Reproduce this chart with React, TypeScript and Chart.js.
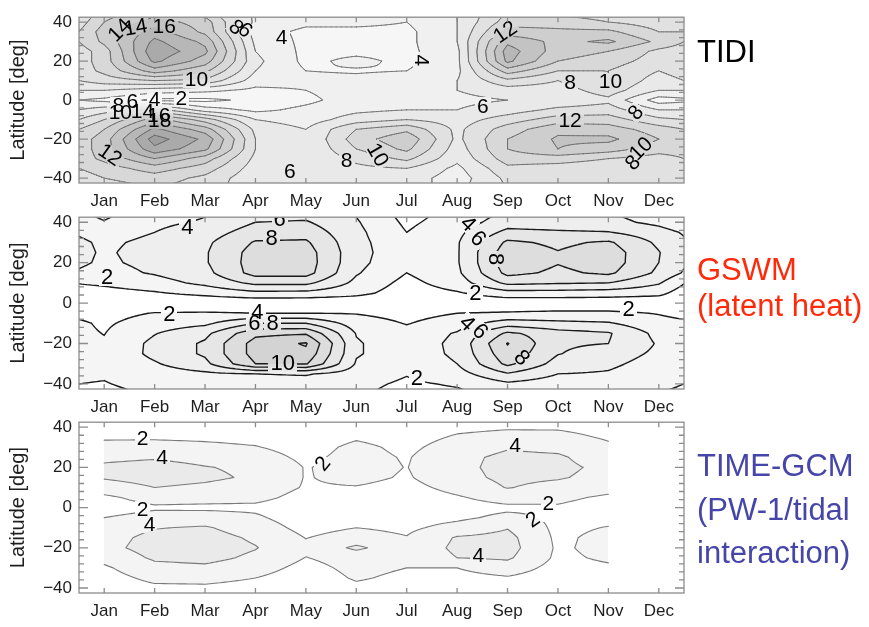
import { useEffect, useRef } from "react";
import { Chart, registerables } from "chart.js";

Chart.register(...registerables);

// ---------- shared axes ----------
const MONTHS = ["Jan", "Feb", "Mar", "Apr", "May", "Jun", "Jul", "Aug", "Sep", "Oct", "Nov", "Dec"];
const LATITUDES = [45, 40, 35, 30, 25, 20, 15, 10, 5, 0, -5, -10, -15, -20, -25, -30, -35, -40, -45];
const LAT_TICKS = [-40, -20, 0, 20, 40];
const LAT_MINOR_STEP = 4;

// ---------- TIDI observations ----------
// columns: edge, Jan..Dec, edge
const TIDI_MONTHS = [-0.5, 0, 1, 2, 3, 4, 5, 6, 7, 8, 9, 10, 11, 11.5];
const TIDI_LEVELS = [2, 4, 6, 8, 10, 12, 14, 16, 18, 20];
const TIDI_AMPLITUDE = [
  [8, 11, 13, 11, 5.5, 4.5, 5, 4.5, 6, 10, 9.5, 9, 8.5, 8],
  [9, 12, 15, 13, 5.5, 4.5, 4.5, 4, 6, 11, 11, 10, 9, 9],
  [10, 13, 17, 13.5, 5, 3.5, 3.5, 3.5, 6, 13, 12.5, 12.5, 10, 10],
  [10, 12.5, 18.5, 15.5, 5.5, 3.5, 3, 3.5, 6, 15.5, 13.4, 14.4, 11.5, 10],
  [9, 11, 19.5, 16.5, 6, 3.5, 3.5, 3.5, 5.5, 17, 13, 12, 9.5, 9],
  [9, 11, 18.5, 15, 6.5, 3.5, 4.5, 3.5, 5.5, 16.5, 12, 11, 9, 9],
  [9, 10.5, 15, 12.5, 6, 4, 3.8, 4, 5.5, 13, 10, 10, 8, 9],
  [8, 9, 10, 9.5, 5, 4.5, 4.5, 5, 6, 9.5, 8, 10, 7, 8],
  [6, 6, 5, 4.5, 3.5, 4, 5, 5.5, 6, 7, 7, 9, 6, 6],
  [4, 3.5, 1.5, 1.5, 2.5, 3.5, 5, 5.5, 5.5, 6, 6.5, 7.5, 3, 3.5],
  [6, 7, 9, 5, 3.5, 4.5, 5.5, 6, 6, 7, 8.5, 9, 6, 6],
  [8, 10, 15, 11, 6, 5, 7, 8, 7, 9, 11, 11, 8.5, 8],
  [10, 12, 18.5, 15, 7.5, 6, 10, 11.5, 7.5, 11, 13.5, 13, 11, 10],
  [11, 13, 21, 17.5, 8, 6, 11, 13.5, 7.5, 12, 14.3, 14.5, 12, 11],
  [11, 13, 19.5, 16.5, 8, 6, 10, 12.5, 7, 12, 14, 13, 11, 11],
  [11, 12.5, 16, 13, 7.5, 6, 8.5, 10.5, 6.5, 11, 11, 10, 9, 10],
  [10, 11, 13, 11, 7, 6, 7.5, 8, 5.5, 9.5, 9, 8.5, 8, 9],
  [9, 10, 11, 9.5, 6.5, 6, 7, 7, 5, 8.5, 8.5, 8, 8, 8.5],
  [8.5, 9, 10, 9, 6.5, 6, 6.5, 6.5, 5.5, 8, 8.5, 8, 8, 8.5],
];
// [month, latitude, level, angle in degrees]
const TIDI_LABELS = [
  [0.3, 36, 14, -45], [0.62, 37.5, 14, -10], [1.19, 38, 16, 0],
  [2.62, 37.5, 8, 40], [2.8, 36, 6, 40], [3.52, 32, 4, 0],
  [1.83, 10.7, 10, 0], [6.3, 20.4, 4, 90],
  [1.53, 1, 2, 0], [1.0, 0.3, 4, 0], [0.56, -0.5, 6, 0], [0.28, -2.5, 8, 0],
  [0.32, -6, 10, 0], [0.76, -5.5, 14, 0], [1.08, -7.5, 16, 0], [1.1, -10.5, 18, 0],
  [0.12, -28, 12, 35], [3.68, -36.4, 6, 0], [4.81, -30.6, 8, 0], [5.43, -28, 10, 60],
  [7.95, 35, 12, -35], [9.24, 9.2, 8, 0], [10.04, 9.7, 10, 0], [7.51, -2.9, 6, 0],
  [10.54, -6.3, 8, -50], [9.24, -10.2, 12, 0], [10.64, -24.8, 10, -45], [10.48, -32, 8, -45],
];

// ---------- GSWM (latent heat) ----------
const GSWM_MONTHS = [-0.5, 0, 1, 2, 3, 4, 5, 6, 7, 8, 9, 10, 11, 11.5];
const GSWM_LEVELS = [2, 4, 6, 8, 10, 12];
const GSWM_AMPLITUDE = [
  [2.3, 1.5, 3.0, 3.8, 5.0, 5.2, 3.8, 1.2, 2.6, 4.2, 4.2, 4.0, 3.0, 2.3],
  [2.6, 2.1, 3.6, 4.2, 6.0, 6.2, 4.2, 1.6, 3.0, 5.0, 4.8, 4.6, 3.5, 2.6],
  [3.8, 3.3, 4.0, 5.0, 7.0, 7.2, 4.5, 2.0, 3.5, 6.6, 6.3, 6.1, 4.8, 3.8],
  [4.3, 3.7, 4.4, 5.6, 8.2, 8.3, 4.6, 2.5, 3.8, 8.4, 7.6, 8.3, 5.6, 4.3],
  [4.4, 3.8, 4.6, 5.8, 8.8, 8.9, 4.7, 2.6, 3.8, 9.2, 8.1, 9.0, 6.1, 4.4],
  [4.3, 3.7, 4.5, 5.8, 8.9, 9.0, 4.6, 2.4, 3.8, 9.2, 8.1, 9.0, 6.0, 4.3],
  [3.8, 3.3, 4.2, 5.4, 8.8, 8.8, 4.2, 2.0, 3.6, 8.6, 7.6, 8.4, 5.6, 3.8],
  [2.1, 2.4, 3.2, 4.5, 6.5, 6.5, 3.5, 1.4, 3.0, 6.5, 6.2, 6.0, 4.2, 2.1],
  [1.0, 1.2, 1.8, 2.6, 3.5, 3.4, 2.6, 1.0, 1.8, 3.2, 3.2, 3.0, 2.6, 1.0],
  [0.3, 0.3, 0.3, 0.4, 0.5, 0.5, 0.5, 0.3, 0.5, 0.6, 0.6, 0.6, 0.5, 0.3],
  [1.5, 1.3, 2.1, 2.2, 2.0, 2.0, 1.9, 1.3, 2.0, 2.2, 2.4, 2.4, 1.9, 1.5],
  [2.3, 1.7, 3.0, 3.6, 6.0, 6.0, 3.0, 1.9, 3.0, 5.0, 4.5, 4.2, 2.6, 2.3],
  [2.4, 1.95, 3.9, 5.5, 9.5, 9.8, 3.9, 2.6, 4.2, 8.4, 6.8, 6.2, 3.4, 2.4],
  [2.5, 2.2, 4.5, 6.3, 10.8, 12.2, 4.2, 2.8, 4.5, 10.1, 6.3, 6.0, 3.8, 2.5],
  [2.6, 2.4, 4.5, 6.3, 10.8, 11.5, 4.2, 2.8, 4.4, 9.4, 6.1, 5.0, 3.6, 2.6],
  [2.5, 2.4, 3.8, 5.5, 10.0, 10.2, 3.8, 2.5, 4.0, 8.5, 5.2, 4.4, 3.2, 2.5],
  [2.3, 2.2, 3.0, 3.6, 4.0, 4.2, 3.0, 2.1, 3.2, 5.8, 4.0, 3.8, 2.8, 2.3],
  [2.0, 1.9, 2.6, 3.0, 3.0, 3.0, 2.5, 1.7, 2.2, 3.6, 3.0, 2.8, 2.4, 2.0],
  [1.6, 1.5, 2.2, 2.6, 2.6, 2.6, 2.2, 1.4, 1.6, 2.4, 2.4, 2.2, 2.0, 1.6],
];
const GSWM_LABELS = [
  [1.65, 37.9, 4, 0], [3.48, 41.8, 6, 0], [3.32, 32, 8, 0], [0.06, 12.8, 2, 0],
  [1.29, -5.4, 2, 0], [3.04, -4.4, 4, 0], [2.98, -9.9, 6, 0], [3.34, -9.9, 8, 0],
  [3.54, -29.6, 10, 0], [6.2, -36.9, 2, 0], [7.22, 39.4, 4, 45], [7.42, 32, 6, 45],
  [7.77, 21.7, 8, 90], [7.36, 4.9, 2, 0], [10.4, -3, 2, 0], [7.2, -9.9, 4, 45],
  [7.46, -13.8, 6, 45], [8.29, -27, 8, 45],
];

// ---------- TIME-GCM (PW-1/tidal interaction), Jan..Nov ----------
const TIME_MONTHS = [0, 1, 2, 3, 4, 5, 6, 7, 8, 9, 10];
const TIME_LEVELS = [2, 4];
const TIME_AMPLITUDE = [
  [0.8, 0.8, 0.8, 0.7, 0.5, 0.8, 0.8, 1.0, 1.2, 1.2, 1.0],
  [1.2, 1.3, 1.2, 1.0, 0.7, 1.2, 1.0, 1.6, 1.8, 1.8, 1.4],
  [1.8, 1.8, 1.7, 1.5, 1.0, 1.8, 1.3, 2.2, 2.6, 2.5, 1.8],
  [2.5, 2.6, 2.4, 2.1, 1.3, 2.4, 1.6, 2.8, 3.8, 3.5, 2.3],
  [3.5, 3.8, 3.3, 2.8, 1.6, 2.6, 1.85, 3.4, 4.5, 4.3, 2.9],
  [4.4, 4.8, 4.1, 3.6, 1.9, 2.7, 1.95, 3.5, 4.6, 4.5, 3.5],
  [4.2, 4.8, 4.4, 3.7, 1.9, 2.5, 1.8, 3.3, 4.5, 4.2, 3.3],
  [3.0, 4.0, 3.6, 3.0, 1.85, 1.9, 1.4, 2.6, 4.1, 3.3, 2.6],
  [1.6, 2.8, 2.7, 2.5, 1.4, 1.3, 1.0, 1.8, 2.8, 2.4, 1.7],
  [1.0, 1.7, 1.6, 1.6, 1.0, 1.0, 0.8, 1.2, 1.6, 1.8, 1.2],
  [2.0, 2.8, 3.0, 2.3, 1.0, 1.4, 1.2, 1.6, 2.5, 1.6, 1.4],
  [2.8, 3.9, 4.2, 3.0, 1.4, 2.0, 1.6, 2.7, 3.9, 1.5, 2.1],
  [3.2, 4.6, 4.8, 3.7, 1.95, 2.8, 2.1, 4.2, 4.6, 1.6, 2.6],
  [3.4, 4.8, 5.0, 4.1, 2.4, 4.4, 2.6, 4.4, 4.8, 1.7, 2.6],
  [2.6, 4.3, 4.6, 3.6, 1.95, 2.8, 2.5, 4.0, 4.3, 1.6, 2.3],
  [1.7, 3.4, 3.6, 2.8, 1.4, 2.5, 2.0, 2.0, 3.0, 1.3, 1.7],
  [1.2, 2.5, 2.5, 2.0, 1.0, 2.2, 1.6, 1.4, 1.8, 1.0, 1.2],
  [0.9, 1.6, 1.7, 1.4, 0.7, 1.6, 1.2, 1.0, 1.2, 0.8, 0.9],
  [0.7, 1.1, 1.1, 1.0, 0.5, 1.1, 0.9, 0.8, 0.9, 0.7, 0.7],
];
const TIME_LABELS = [
  [0.76, 34.6, 2, 0], [1.15, 24.9, 4, 0], [4.33, 22, 2, -50], [0.76, -1, 2, 0],
  [0.9, -8.3, 4, 0], [8.15, 31.2, 4, 0], [8.81, 2.4, 2, 0], [8.5, -5.9, 2, -35],
  [7.42, -23.9, 4, 0],
];

const FONT = '"Liberation Sans", Arial, Helvetica, sans-serif';

interface Field {
  months: number[];
  values: number[][];
  levels: number[];
  shades: number[];
  lineColor: string;
  lineWidth: number;
  labels: number[][];
  labelSize: number;
}

const TIDI_FIELD: Field = {
  months: TIDI_MONTHS, values: TIDI_AMPLITUDE, levels: TIDI_LEVELS,
  shades: [246, 240, 233, 225, 216, 206, 195, 183, 170, 158],
  lineColor: "#6a6a6a", lineWidth: 0.9, labels: TIDI_LABELS, labelSize: 21,
};
const GSWM_FIELD: Field = {
  months: GSWM_MONTHS, values: GSWM_AMPLITUDE, levels: GSWM_LEVELS,
  shades: [245, 238, 230, 221, 211, 200],
  lineColor: "#1a1a1a", lineWidth: 1.4, labels: GSWM_LABELS, labelSize: 22,
};
const TIME_FIELD: Field = {
  months: TIME_MONTHS, values: TIME_AMPLITUDE, levels: TIME_LEVELS,
  shades: [244, 234],
  lineColor: "#7a7a7a", lineWidth: 1.1, labels: TIME_LABELS, labelSize: 21,
};

// bilinear value of the gridded field at (month, latitude); null outside the data months
function sample(f: Field, m: number, lat: number): number | null {
  const xs = f.months;
  const n = xs.length;
  if (m < xs[0] - 1e-9 || m > xs[n - 1] + 1e-9) return null;
  let i = 0;
  while (i < n - 2 && m > xs[i + 1]) i++;
  const tx = Math.min(1, Math.max(0, (m - xs[i]) / (xs[i + 1] - xs[i])));
  const L = LATITUDES;
  const k = L.length;
  const la = Math.max(L[k - 1], Math.min(L[0], lat));
  let j = 0;
  while (j < k - 2 && la < L[j + 1]) j++;
  const ty = (L[j] - la) / (L[j] - L[j + 1]);
  const r0 = f.values[j];
  const r1 = f.values[j + 1];
  const t = r0[i] + (r0[i + 1] - r0[i]) * tx;
  const b = r1[i] + (r1[i + 1] - r1[i]) * tx;
  return t + (b - t) * ty;
}

function refine(axis: number[], n: number): number[] {
  const out: number[] = [];
  for (let i = 0; i < axis.length - 1; i++) {
    for (let s = 0; s < n; s++) out.push(axis[i] + ((axis[i + 1] - axis[i]) * s) / n);
  }
  out.push(axis[axis.length - 1]);
  return out;
}

// marching squares on a refined copy of the bilinear field
function isolines(level: number, rx: number[], ry: number[], rv: number[][]): number[][] {
  const segs: number[][] = [];
  for (let j = 0; j < ry.length - 1; j++) {
    for (let i = 0; i < rx.length - 1; i++) {
      const a = rv[j][i], b = rv[j][i + 1], c = rv[j + 1][i + 1], d = rv[j + 1][i];
      const code = (a >= level ? 8 : 0) | (b >= level ? 4 : 0) | (c >= level ? 2 : 0) | (d >= level ? 1 : 0);
      if (code === 0 || code === 15) continue;
      const x0 = rx[i], x1 = rx[i + 1], y0 = ry[j], y1 = ry[j + 1];
      const T = () => [x0 + ((x1 - x0) * (level - a)) / (b - a), y0];
      const R = () => [x1, y0 + ((y1 - y0) * (level - b)) / (c - b)];
      const B = () => [x0 + ((x1 - x0) * (level - d)) / (c - d), y1];
      const Lf = () => [x0, y0 + ((y1 - y0) * (level - a)) / (d - a)];
      const seg = (p: number[], q: number[]) => segs.push([p[0], p[1], q[0], q[1]]);
      const center = (a + b + c + d) / 4;
      switch (code) {
        case 1: seg(Lf(), B()); break;
        case 2: seg(B(), R()); break;
        case 3: seg(Lf(), R()); break;
        case 4: seg(T(), R()); break;
        case 5:
          if (center >= level) { seg(Lf(), T()); seg(B(), R()); } else { seg(T(), R()); seg(Lf(), B()); }
          break;
        case 6: seg(T(), B()); break;
        case 7: seg(Lf(), T()); break;
        case 8: seg(Lf(), T()); break;
        case 9: seg(T(), B()); break;
        case 10:
          if (center >= level) { seg(T(), R()); seg(Lf(), B()); } else { seg(Lf(), T()); seg(B(), R()); }
          break;
        case 11: seg(T(), R()); break;
        case 12: seg(Lf(), R()); break;
        case 13: seg(B(), R()); break;
        case 14: seg(Lf(), B()); break;
      }
    }
  }
  return segs;
}

function makeContourPlugin(f: Field) {
  return {
    id: "contourField",
    beforeDatasetsDraw(chart: any) {
      const { ctx, chartArea: a } = chart;
      const xs = chart.scales.x;
      const ys = chart.scales.y;
      const left = Math.round(a.left);
      const top = Math.round(a.top);
      const w = Math.round(a.right) - left;
      const h = Math.round(a.bottom) - top;

      // filled bands
      const img = ctx.getImageData(left, top, w, h);
      const monthAt: number[] = [];
      for (let px = 0; px < w; px++) monthAt.push(xs.getValueForPixel(left + px + 0.5));
      for (let py = 0; py < h; py++) {
        const lat = ys.getValueForPixel(top + py + 0.5);
        for (let px = 0; px < w; px++) {
          const v = sample(f, monthAt[px], lat);
          if (v === null) continue;
          let k = -1;
          for (let l = 0; l < f.levels.length; l++) if (v >= f.levels[l]) k = l;
          if (k < 0) continue;
          const g = f.shades[k];
          const o = (py * w + px) * 4;
          img.data[o] = g;
          img.data[o + 1] = g;
          img.data[o + 2] = g;
          img.data[o + 3] = 255;
        }
      }
      ctx.putImageData(img, left, top);

      // contour lines, drawn on a separate layer so labels can cut gaps
      const rx = refine(f.months, 10);
      const ry = refine(LATITUDES, 10);
      const rv = ry.map((lat) => rx.map((m) => sample(f, m, lat) as number));
      const off = document.createElement("canvas");
      off.width = chart.width;
      off.height = chart.height;
      const oc = off.getContext("2d")!;
      oc.strokeStyle = f.lineColor;
      oc.lineWidth = f.lineWidth;
      oc.lineCap = "round";
      oc.lineJoin = "round";
      oc.beginPath();
      for (const level of f.levels) {
        for (const s of isolines(level, rx, ry, rv)) {
          oc.moveTo(xs.getPixelForValue(s[0]), ys.getPixelForValue(s[1]));
          oc.lineTo(xs.getPixelForValue(s[2]), ys.getPixelForValue(s[3]));
        }
      }
      oc.stroke();

      const font = `${f.labelSize}px ${FONT}`;
      ctx.font = font;
      const placed = f.labels.map(([m, lat, level, ang]) => {
        const text = String(level);
        return {
          x: xs.getPixelForValue(m),
          y: ys.getPixelForValue(lat),
          text,
          ang: (ang * Math.PI) / 180,
          hw: ctx.measureText(text).width / 2 + 2,
          hh: f.labelSize * 0.4,
        };
      });
      for (const p of placed) {
        oc.save();
        oc.translate(p.x, p.y);
        oc.rotate(p.ang);
        oc.clearRect(-p.hw, -p.hh, p.hw * 2, p.hh * 2);
        oc.restore();
      }

      ctx.save();
      ctx.beginPath();
      ctx.rect(a.left, a.top, a.right - a.left, a.bottom - a.top);
      ctx.clip();
      ctx.drawImage(off, 0, 0);
      ctx.fillStyle = "#000";
      ctx.font = font;
      ctx.textAlign = "center";
      ctx.textBaseline = "middle";
      for (const p of placed) {
        ctx.save();
        ctx.translate(p.x, p.y);
        ctx.rotate(p.ang);
        ctx.fillText(p.text, 0, 1);
        ctx.restore();
      }
      ctx.restore();
    },
  };
}

const framePlugin = {
  id: "plotFrame",
  afterDatasetsDraw(chart: any) {
    const { ctx, chartArea: a } = chart;
    const xs = chart.scales.x;
    const ys = chart.scales.y;
    ctx.save();
    ctx.strokeStyle = "#8c8c8c";
    ctx.lineWidth = 1.3;
    ctx.strokeRect(a.left, a.top, a.right - a.left, a.bottom - a.top);
    ctx.beginPath();
    MONTHS.forEach((_, i) => {
      const px = xs.getPixelForValue(i);
      ctx.moveTo(px, a.bottom);
      ctx.lineTo(px, a.bottom - 5);
      ctx.moveTo(px, a.top);
      ctx.lineTo(px, a.top + 5);
    });
    const lo = LAT_TICKS[0];
    const hi = LAT_TICKS[LAT_TICKS.length - 1];
    for (let v = lo; v <= hi; v += LAT_MINOR_STEP) {
      const py = ys.getPixelForValue(v);
      const len = LAT_TICKS.includes(v) ? 9 : 5;
      ctx.moveTo(a.left, py);
      ctx.lineTo(a.left + len, py);
      ctx.moveTo(a.right, py);
      ctx.lineTo(a.right - len, py);
    }
    ctx.stroke();
    ctx.restore();
  },
};

function ContourPanel({ top, height, padTop, field }: { top: number; height: number; padTop: number; field: Field }) {
  const ref = useRef<HTMLCanvasElement>(null);
  useEffect(() => {
    const chart = new Chart(ref.current as HTMLCanvasElement, {
      type: "scatter",
      data: { datasets: [] },
      options: {
        responsive: false,
        animation: false,
        devicePixelRatio: 1,
        layout: { padding: { left: 0, right: 185, top: padTop, bottom: 0 } },
        plugins: { legend: { display: false }, tooltip: { enabled: false } },
        scales: {
          x: {
            type: "linear",
            min: -0.5,
            max: 11.5,
            afterBuildTicks: (s: any) => {
              s.ticks = MONTHS.map((_, i) => ({ value: i }));
            },
            afterFit: (s: any) => {
              s.height = 32;
            },
            ticks: {
              autoSkip: false,
              maxRotation: 0,
              padding: 8,
              color: "#1e1e1e",
              font: { family: FONT, size: 17 },
              callback: (v: any) => MONTHS[Number(v)],
            },
            grid: { display: false, drawTicks: false },
            border: { display: false },
          },
          y: {
            type: "linear",
            min: -42.5,
            max: 42.5,
            afterBuildTicks: (s: any) => {
              s.ticks = LAT_TICKS.map((v) => ({ value: v }));
            },
            afterFit: (s: any) => {
              s.width = 79;
            },
            ticks: {
              padding: 7,
              color: "#1e1e1e",
              font: { family: FONT, size: 17 },
              callback: (v: any) => {
                const n = Number(v);
                return n < 0 ? "\u2212" + Math.abs(n) : String(n);
              },
            },
            title: {
              display: true,
              text: "Latitude [deg]",
              color: "#1e1e1e",
              font: { family: FONT, size: 20 },
              padding: { top: 6, bottom: 0 },
            },
            grid: { display: false, drawTicks: false },
            border: { display: false },
          },
        },
      },
      plugins: [makeContourPlugin(field), framePlugin],
    } as any);
    return () => chart.destroy();
  }, []);
  return (
    <canvas
      ref={ref}
      width={869}
      height={height}
      style={{ position: "absolute", left: 0, top, width: 869, height }}
    />
  );
}

const sideText = (top: number, color: string, lineHeight: number) => ({
  position: "absolute" as const,
  left: 697,
  top,
  fontFamily: FONT,
  fontSize: 31,
  lineHeight: `${lineHeight}px`,
  color,
  whiteSpace: "nowrap" as const,
});

export default function App() {
  return (
    <div style={{ position: "absolute", left: 0, top: 0, width: 869, height: 627, background: "#fff", overflow: "hidden" }}>
      <ContourPanel top={0} height={215} padTop={9} field={TIDI_FIELD} />
      <ContourPanel top={200} height={221} padTop={14} field={GSWM_FIELD} />
      <ContourPanel top={405} height={220} padTop={13} field={TIME_FIELD} />
      <div style={sideText(34, "#000", 36)}>TIDI</div>
      <div style={sideText(252, "#ff2a0a", 36)}>
        GSWM
        <br />
        (latent heat)
      </div>
      <div style={sideText(444, "#4646aa", 43.5)}>
        TIME-GCM
        <br />
        (PW-1/tidal
        <br />
        interaction)
      </div>
    </div>
  );
}
